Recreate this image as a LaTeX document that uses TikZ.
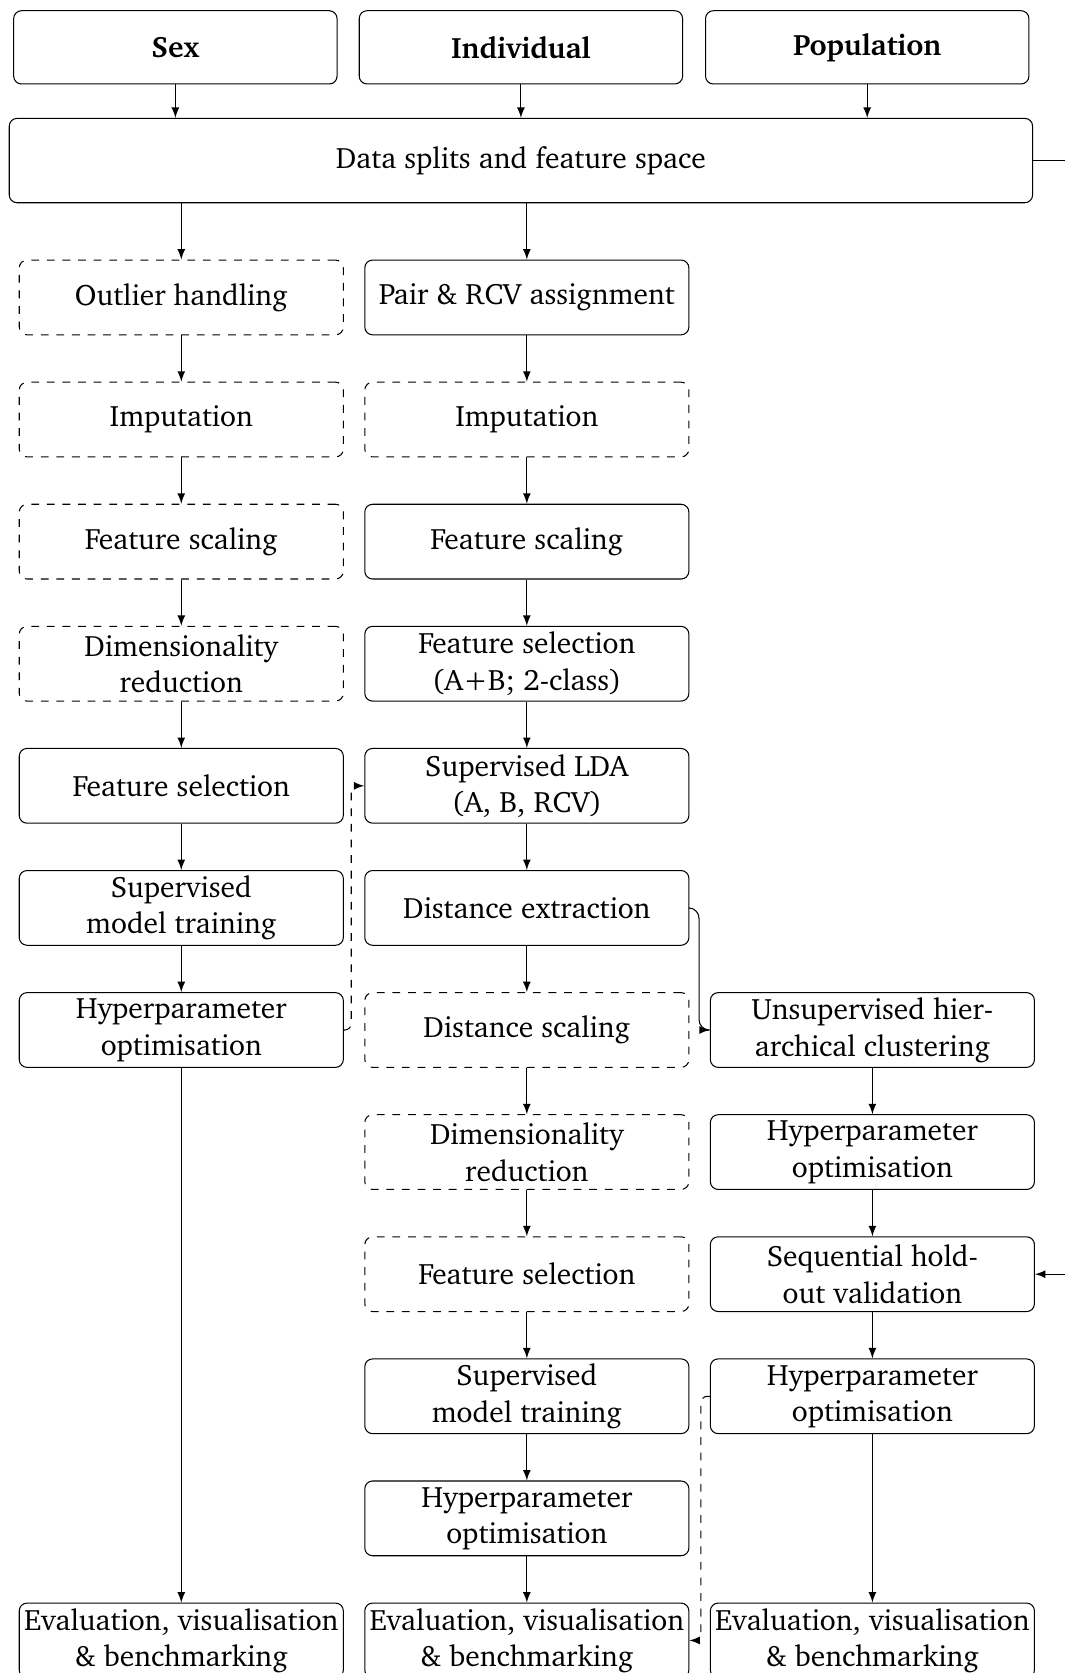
\documentclass[tikz,border=0pt]{standalone}
\usepackage[T1]{fontenc}
\usepackage{charter}
\usepackage{amsmath}

\begin{document}
\begin{tikzpicture}[
	box/.style={draw, rounded corners=3pt, minimum width=4.38cm, minimum height=1.01cm, align=center, inner sep=1pt, font=\fontsize{11.35}{14}\selectfont},
	optbox/.style={box, dashed},
	head/.style={box, minimum width=4.37cm, minimum height=0.99cm, font=\fontsize{11.35}{14}\selectfont\bfseries},
	arr/.style={-latex},
	feedback/.style={-latex, dashed, rounded corners=2.5pt}]
\useasboundingbox (0,0) rectangle (14.39,-22.61);
\clip (0,0) rectangle (14.39,-22.61);

\node[head] (sex) at (2.37,-0.64) {Sex};
\node[head] (ind) at (7.04,-0.64) {Individual};
\node[head] (pop) at (11.72,-0.64) {Population};
\node[box, minimum width=13.83cm, minimum height=1.14cm] (data) at (7.04,-2.17) {Data splits and feature space};

		\node[optbox] (sout) at (2.45,-4.02) {Outlier handling};
		\node[optbox] (simp) at (2.45,-5.67) {Imputation};
		\node[optbox] (sscale) at (2.45,-7.32) {Feature scaling};
		\node[optbox] (sdim) at (2.45,-8.97) {Dimensionality\\reduction};
		\node[box] (ssel) at (2.45,-10.62) {Feature selection};
		\node[box] (strain) at (2.45,-12.27) {Supervised\\model training};
		\node[box] (shyp) at (2.45,-13.92) {Hyperparameter\\optimisation};
		\node[box] (seval) at (2.45,-22.17) {Evaluation, visualisation\\\& benchmarking};

\node[box] (ipair) at (7.12,-4.02) {Pair \& RCV assignment};
\node[optbox] (iimp) at (7.12,-5.67) {Imputation};
\node[box] (iscale) at (7.12,-7.32) {Feature scaling};
\node[box] (isel) at (7.12,-8.97) {Feature selection\\(A+B; 2-class)};
\node[box] (ilda) at (7.12,-10.62) {Supervised LDA\\(A, B, RCV)};
\node[box] (idist) at (7.12,-12.27) {Distance extraction};
\node[optbox] (idscale) at (7.12,-13.92) {Distance scaling};
\node[optbox] (idim) at (7.12,-15.57) {Dimensionality\\reduction};
\node[optbox] (idsel) at (7.12,-17.22) {Feature selection};
\node[box] (itrain) at (7.12,-18.87) {Supervised\\model training};
\node[box] (ihyp) at (7.12,-20.52) {Hyperparameter\\optimisation};
\node[box] (ieval) at (7.12,-22.17) {Evaluation, visualisation\\\& benchmarking};

		\node[box] (pclust) at (11.79,-13.92) {Unsupervised hier-\\archical clustering};
		\node[box] (phyp) at (11.79,-15.57) {Hyperparameter\\optimisation};
		\node[box] (pval) at (11.79,-17.22) {Sequential hold-\\out validation};
		\node[box] (phyptwo) at (11.79,-18.87) {Hyperparameter\\optimisation};
		\node[box] (peval) at (11.79,-22.17) {Evaluation, visualisation\\\& benchmarking};

\draw[arr] (sex) -- (sex |- data.north);
\draw[arr] (ind) -- (ind |- data.north);
\draw[arr] (pop) -- (pop |- data.north);
\draw[arr] (data.south -| sout) -- (sout);
\draw[arr] (data.south -| ipair) -- (ipair);
\draw[arr] (data.east) -- ++(0.8,0) |- (pval.east);

\draw[arr] (sout) -- (simp);
\draw[arr] (simp) -- (sscale);
\draw[arr] (sscale) -- (sdim);
\draw[arr] (sdim) -- (ssel);
\draw[arr] (ssel) -- (strain);
\draw[arr] (strain) -- (shyp);
\draw[arr] (shyp) -- (seval);

\draw[arr] (ipair) -- (iimp);
\draw[arr] (iimp) -- (iscale);
\draw[arr] (iscale) -- (isel);
\draw[arr] (isel) -- (ilda);
\draw[arr] (ilda) -- (idist);
\draw[arr] (idist) -- (idscale);
\draw[arr] (idscale) -- (idim);
\draw[arr] (idim) -- (idsel);
\draw[arr] (idsel) -- (itrain);
\draw[arr] (itrain) -- (ihyp);
\draw[arr] (ihyp) -- (ieval);

\draw[arr, rounded corners=4pt] (idist.east) -- ++(0.13,0) |- (pclust.west);
\draw[arr] (pclust) -- (phyp);
\draw[arr] (phyp) -- (pval);
\draw[arr] (pval) -- (phyptwo);
\draw[arr] (phyptwo) -- (peval);

\draw[feedback] (shyp.east) -- ++(0.1,0) |- (ilda.west);
\draw[feedback] (phyptwo.west) -- ++(-0.12,0) |- (ieval.east);

\end{tikzpicture}
\end{document}
